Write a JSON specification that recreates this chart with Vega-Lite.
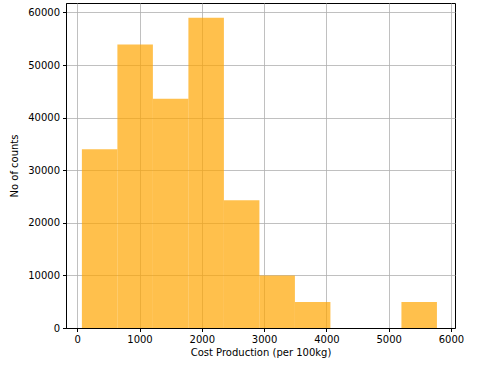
{
  "$schema": "https://vega.github.io/schema/vega-lite/v6.json",
  "width": 389,
  "height": 325,
  "autosize": {"type": "none"},
  "padding": {"left": 66, "top": 3, "right": 27, "bottom": 44},
  "background": "white",
  "config": {
    "font": "DejaVu Sans",
    "view": {"stroke": "black", "strokeWidth": 1},
    "axis": {
      "labelFont": "DejaVu Sans",
      "titleFont": "DejaVu Sans",
      "labelFontSize": 10,
      "titleFontSize": 10,
      "titleFontWeight": "normal",
      "labelColor": "black",
      "titleColor": "black",
      "domainColor": "black",
      "tickColor": "black",
      "tickSize": 3.5,
      "labelPadding": 3,
      "gridColor": "#b0b0b0",
      "gridWidth": 0.8,
      "zindex": 1
    }
  },
  "data": {
    "values": [
      {"bin_start": 75, "bin_end": 645, "count": 34000},
      {"bin_start": 645, "bin_end": 1215, "count": 53900},
      {"bin_start": 1215, "bin_end": 1785, "count": 43600},
      {"bin_start": 1785, "bin_end": 2355, "count": 59000},
      {"bin_start": 2355, "bin_end": 2925, "count": 24300},
      {"bin_start": 2925, "bin_end": 3495, "count": 10000},
      {"bin_start": 3495, "bin_end": 4065, "count": 4950},
      {"bin_start": 4065, "bin_end": 4635, "count": 0},
      {"bin_start": 4635, "bin_end": 5205, "count": 0},
      {"bin_start": 5205, "bin_end": 5775, "count": 4950}
    ]
  },
  "mark": {"type": "bar", "color": "#FFA500", "opacity": 0.7},
  "encoding": {
    "x": {
      "field": "bin_start",
      "type": "quantitative",
      "scale": {"domain": [-180, 6065], "nice": false, "zero": false},
      "axis": {"values": [0, 1000, 2000, 3000, 4000, 5000, 6000], "format": "d", "title": "Cost Production (per 100kg)", "titlePadding": 3, "labelFlush": false}
    },
    "x2": {"field": "bin_end"},
    "y": {
      "field": "count",
      "type": "quantitative",
      "scale": {"domain": [0, 61800], "nice": false},
      "axis": {"values": [0, 10000, 20000, 30000, 40000, 50000, 60000], "format": "d", "title": "No of counts", "titlePadding": 8, "labelFlush": false}
    },
    "y2": {"datum": 0}
  }
}
